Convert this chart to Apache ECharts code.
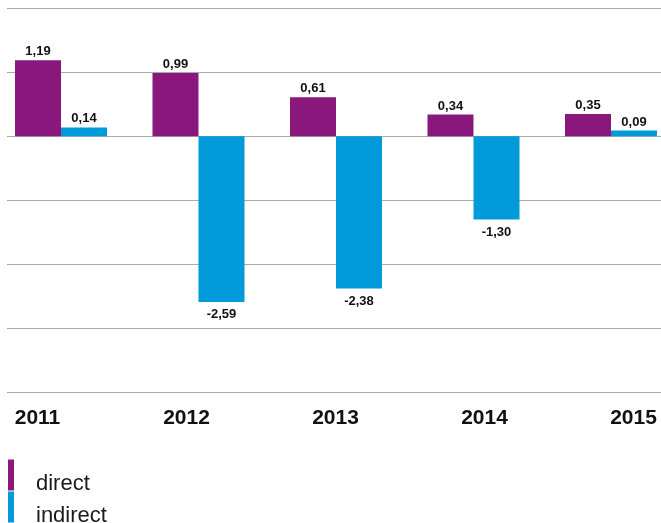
<!DOCTYPE html>
<html>
<head>
<meta charset="utf-8">
<script src="https://cdn.jsdelivr.net/npm/echarts@6/dist/echarts.min.js"></script>
<style>
  html, body { margin: 0; padding: 0; background: #fff; }
  #chart { width: 661px; height: 523px; }
</style>
</head>
<body>
<div id="chart"></div>
<script>
// Yearly values, direct vs. indirect
const years = ['2011', '2012', '2013', '2014', '2015'];
const directValues = [1.19, 0.99, 0.61, 0.34, 0.35];
const indirectValues = [0.14, -2.59, -2.38, -1.30, 0.09];
const seriesNames = ['direct', 'indirect'];

const PURPLE = '#8a177b';
const BLUE = '#0099d9';
const FONT = '"Liberation Sans", Arial, Helvetica, sans-serif';

const fmt = v => v.toFixed(2).replace('.', ',');

// Bars sit on a numeric x scale (one unit per year) so the year groups can
// overhang the reference lines slightly; labels go above positive bars and
// below negative ones.
function toItems(values) {
  return values.map((v, i) => ({
    value: [i, v],
    label: v < 0 ? { position: 'bottom', distance: 6 } : { position: 'top', distance: 2 }
  }));
}

const yRange = { min: -4, max: 2, interval: 1 };
const gridTop = 8.5;
const gridBottom = 131;

const chart = echarts.init(document.getElementById('chart'), null, { renderer: 'canvas' });

// legend captions sit a little below the middle of their colour swatch
const legendCommon = {
  left: 8, padding: 0, itemWidth: 6, itemHeight: 31, icon: 'rect',
  formatter: name => '\n' + name,
  textStyle: {
    fontFamily: FONT, fontSize: 22, color: '#1a1a1a',
    lineHeight: 17, padding: [0, 0, 0, 17]
  }
};

chart.setOption({
  animation: false,
  backgroundColor: '#fff',
  textStyle: { fontFamily: FONT },
  grid: [
    // reference lines and bars
    { left: 7, right: 0, top: gridTop, bottom: gridBottom },
    // year labels
    { left: 37.5, right: 27.5, top: gridTop, bottom: gridBottom }
  ],
  xAxis: [
    { gridIndex: 0, type: 'value', min: -0.3927, max: 4.3637, show: false, splitLine: { show: false } },
    {
      gridIndex: 1, type: 'category', data: years, boundaryGap: false,
      position: 'bottom',
      axisLine: { show: false }, axisTick: { show: false },
      axisLabel: { color: '#111', fontSize: 21, fontWeight: 'bold', fontFamily: FONT, margin: 16 }
    }
  ],
  yAxis: [
    Object.assign({ gridIndex: 0, type: 'value',
      axisLine: { show: false }, axisTick: { show: false }, axisLabel: { show: false },
      splitLine: { show: true, lineStyle: { color: '#ababab', width: 1 } } }, yRange),
    Object.assign({ gridIndex: 1, type: 'value', show: false, splitLine: { show: false } }, yRange)
  ],
  legend: [
    Object.assign({ top: 455.5, data: [seriesNames[0]] }, legendCommon),
    Object.assign({ top: 487.5, data: [seriesNames[1]] }, legendCommon)
  ],
  series: [
    {
      name: seriesNames[0], type: 'bar', xAxisIndex: 0, yAxisIndex: 0,
      data: toItems(directValues),
      barWidth: 46, barGap: 0,
      itemStyle: { color: PURPLE },
      label: {
        show: true, color: '#111', fontSize: 13, fontWeight: 'bold',
        fontFamily: FONT, formatter: p => fmt(p.value[1])
      }
    },
    {
      name: seriesNames[1], type: 'bar', xAxisIndex: 0, yAxisIndex: 0,
      data: toItems(indirectValues),
      barWidth: 46, barGap: 0,
      itemStyle: { color: BLUE },
      label: {
        show: true, color: '#111', fontSize: 13, fontWeight: 'bold',
        fontFamily: FONT, formatter: p => fmt(p.value[1])
      }
    }
  ]
});
</script>
</body>
</html>
